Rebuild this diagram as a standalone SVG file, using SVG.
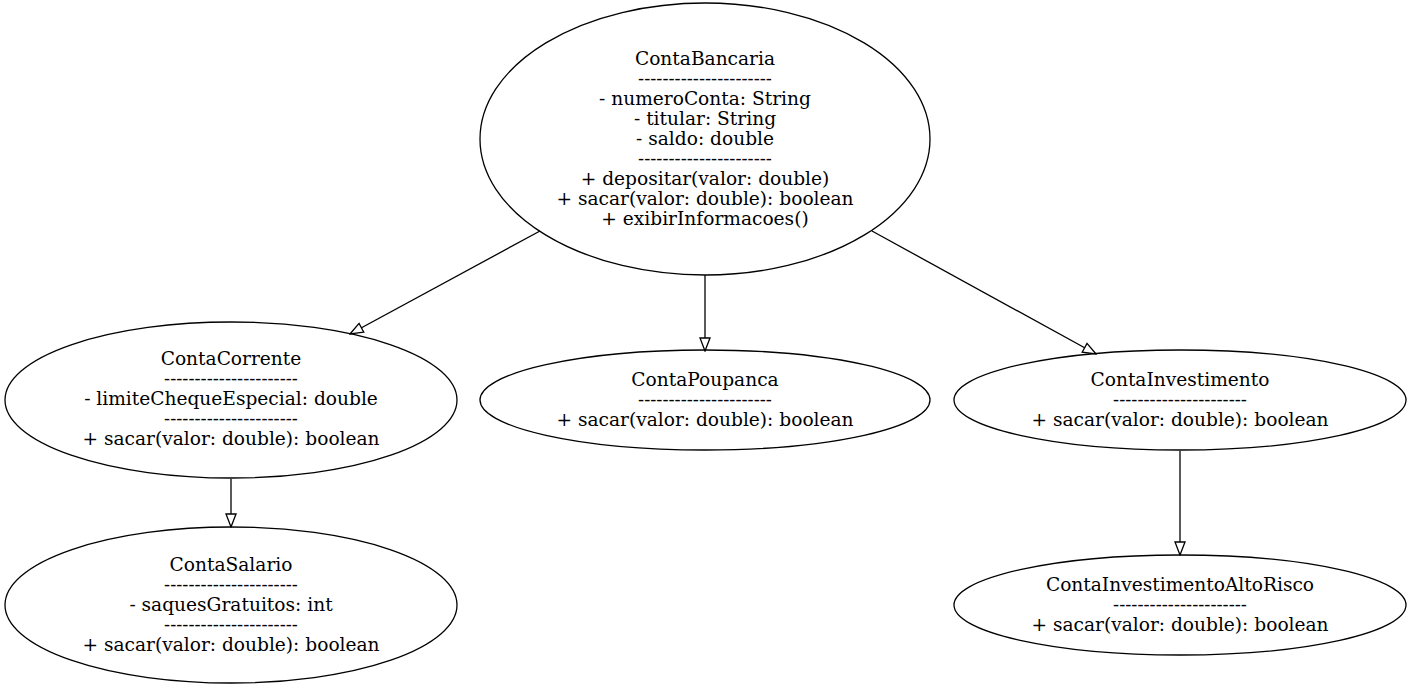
<svg xmlns="http://www.w3.org/2000/svg" width="1411" height="689" viewBox="0 0 1411 689">
<style>
.node ellipse{fill:none;stroke:#000;stroke-width:1.3}
.node text{font-family:"DejaVu Serif","Liberation Serif",serif;font-size:18.6px;text-anchor:middle;fill:#000}
.node text.sep{font-size:18px}
.edge{stroke:#000;stroke-width:1.3;fill:none;marker-end:url(#tri)}
</style>
<defs>
<marker id="tri" viewBox="-1 -1 15 12" refX="13" refY="5" markerWidth="15" markerHeight="12" markerUnits="userSpaceOnUse" orient="auto">
<path d="M0,0 L13,5 L0,10 Z" fill="#fff" stroke="#000" stroke-width="1.3"/>
</marker>
</defs>
<rect width="1411" height="689" fill="#fff"/>
<g id="connectors">
<path class="edge" d="M540,231 L350,334"/>
<path class="edge" d="M705,275 L705,351"/>
<path class="edge" d="M872,231 L1096,354"/>
<path class="edge" d="M231,479 L231,527"/>
<path class="edge" d="M1180,451 L1180,555"/>
</g>
<g id="ContaBancaria" class="node">
<ellipse cx="705" cy="139" rx="225" ry="136"/>
<text x="705" y="65">ContaBancaria</text>
<text class="sep" x="705" y="85">----------------------</text>
<text x="705" y="105">- numeroConta: String</text>
<text x="705" y="125">- titular: String</text>
<text x="705" y="145">- saldo: double</text>
<text class="sep" x="705" y="165">----------------------</text>
<text x="705" y="185">+ depositar(valor: double)</text>
<text x="705" y="205">+ sacar(valor: double): boolean</text>
<text x="705" y="225">+ exibirInformacoes()</text>
</g>
<g id="ContaCorrente" class="node">
<ellipse cx="231" cy="400" rx="226" ry="78"/>
<text x="231" y="365">ContaCorrente</text>
<text class="sep" x="231" y="385">----------------------</text>
<text x="231" y="405">- limiteChequeEspecial: double</text>
<text class="sep" x="231" y="425">----------------------</text>
<text x="231" y="445">+ sacar(valor: double): boolean</text>
</g>
<g id="ContaPoupanca" class="node">
<ellipse cx="705" cy="400" rx="225" ry="50"/>
<text x="705" y="386">ContaPoupanca</text>
<text class="sep" x="705" y="406">----------------------</text>
<text x="705" y="426">+ sacar(valor: double): boolean</text>
</g>
<g id="ContaInvestimento" class="node">
<ellipse cx="1180" cy="400" rx="226" ry="50"/>
<text x="1180" y="386">ContaInvestimento</text>
<text class="sep" x="1180" y="406">----------------------</text>
<text x="1180" y="426">+ sacar(valor: double): boolean</text>
</g>
<g id="ContaSalario" class="node">
<ellipse cx="231" cy="605" rx="226" ry="78"/>
<text x="231" y="571">ContaSalario</text>
<text class="sep" x="231" y="591">----------------------</text>
<text x="231" y="611">- saquesGratuitos: int</text>
<text class="sep" x="231" y="631">----------------------</text>
<text x="231" y="651">+ sacar(valor: double): boolean</text>
</g>
<g id="ContaInvestimentoAltoRisco" class="node">
<ellipse cx="1180" cy="605" rx="226" ry="50"/>
<text x="1180" y="591">ContaInvestimentoAltoRisco</text>
<text class="sep" x="1180" y="611">----------------------</text>
<text x="1180" y="631">+ sacar(valor: double): boolean</text>
</g>
</svg>
